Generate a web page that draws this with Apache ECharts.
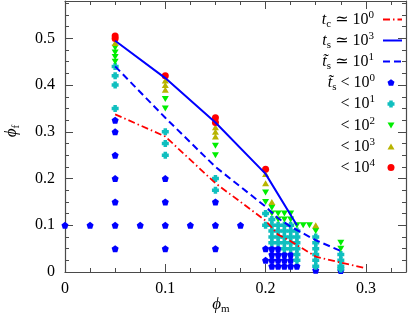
<!DOCTYPE html>
<html><head><meta charset="utf-8">
<script src="https://cdn.jsdelivr.net/npm/echarts@6/dist/echarts.min.js"></script>
<style>html,body{margin:0;padding:0;background:#fff}#c{width:416px;height:313px}</style>
</head><body><div id="c"></div>
<script>
// ---- data ----
const xTickLabels = ['0', '0.1', '0.2', '0.3'];
const yTickLabels = ['0', '0.1', '0.2', '0.3', '0.4', '0.5'];
const seriesNames = ['tc', 'ts', 'tts', 'lt0', 'lt1', 'lt2', 'lt3', 'lt4'];
const legendLabels = [
  '{t|t}{sub|c}{r| ≃ 10}{sup|0}',
  '{t|t}{sub|s}{r| ≃ 10}{sup|3}',
  '{t|t\u0303}{sub|s}{r| ≃ 10}{sup|1}',
  '{t|t\u0303}{sub|s}{r| < 10}{sup|0}',
  '{r|< 10}{sup|1}',
  '{r|< 10}{sup|2}',
  '{r|< 10}{sup|3}',
  '{r|< 10}{sup|4}'
];
// threshold lines
const lineTc = [[0.05,0.3375],[0.1,0.29],[0.15,0.19],[0.2,0.11],[0.2125,0.08],[0.225,0.066],[0.25,0.033],[0.275,0.02],[0.3,0.008]];
const lineTs = [[0.05,0.495],[0.1,0.415],[0.15,0.32],[0.2,0.21],[0.23125,0.1]];
const lineTts = [[0.05,0.44],[0.1,0.33],[0.15,0.225],[0.2,0.14],[0.2125,0.115],[0.225,0.097],[0.25,0.068],[0.275,0.045]];
// simulation points by class
const ptsLt0 = [[0,0.1],[0.025,0.1],[0.05,0.05],[0.05,0.1],[0.05,0.15],[0.05,0.2],[0.05,0.25],[0.05,0.3],[0.05,0.325],
  [0.075,0.1],[0.1,0.05],[0.1,0.1],[0.1,0.15],[0.1,0.2],[0.125,0.1],[0.15,0.05],[0.15,0.1],[0.15,0.15],[0.175,0.1],
  [0.2,0.025],[0.2,0.05],[0.20625,0.05],[0.2125,0.05],
  [0.20625,0.0375],[0.2125,0.0375],[0.21875,0.0375],[0.225,0.0375],
  [0.20625,0.025],[0.2125,0.025],[0.21875,0.025],[0.225,0.025],
  [0.20625,0.0125],[0.2125,0.0125],[0.21875,0.0125],[0.225,0.0125],[0.23125,0.0125],
  [0.25,0.004],[0.275,0.003]];
const ptsLt1 = [[0.05,0.35],[0.05,0.4],[0.05,0.42],[0.05,0.44],[0.1,0.25],[0.1,0.275],[0.1,0.3],[0.15,0.175],[0.15,0.2],
  [0.2,0.1],[0.2,0.125],[0.20625,0.1125],
  [0.20625,0.1],[0.2125,0.1],[0.21875,0.1],[0.225,0.1],
  [0.20625,0.0875],[0.2125,0.0875],[0.21875,0.0875],[0.225,0.0875],[0.23125,0.0875],
  [0.20625,0.075],[0.2125,0.075],[0.21875,0.075],[0.225,0.075],[0.23125,0.075],
  [0.20625,0.0625],[0.2125,0.0625],[0.21875,0.0625],[0.225,0.0625],[0.23125,0.0625],
  [0.21875,0.05],[0.225,0.05],[0.23125,0.05],[0.23125,0.0375],[0.23125,0.025],
  [0.25,0.075],[0.25,0.0625],[0.25,0.05],[0.25,0.0375],[0.25,0.025],[0.25,0.0125],
  [0.275,0.0375],[0.275,0.025],[0.275,0.0125],[0.275,0.00625]];
const ptsLt2 = [[0.05,0.45],[0.05,0.46],[0.05,0.47],[0.05,0.48],[0.1,0.35],[0.1,0.37],[0.15,0.25],[0.15,0.27],
  [0.2,0.15],[0.2,0.17],[0.20625,0.1375],[0.20625,0.125],[0.2125,0.125],[0.21875,0.125],[0.225,0.125],
  [0.2125,0.1125],[0.21875,0.1125],[0.225,0.1125],[0.23125,0.1],[0.2375,0.1],[0.24375,0.1],
  [0.25,0.0875],[0.275,0.0625],[0.275,0.05]];
const ptsLt3 = [[0.05,0.49],[0.1,0.39],[0.1,0.4],[0.1,0.41],[0.15,0.29],[0.15,0.3],[0.15,0.31],[0.2,0.19],[0.2,0.21],[0.20625,0.15],[0.25,0.1]];
const ptsLt4 = [[0.05,0.5],[0.05,0.505],[0.1,0.42],[0.15,0.32],[0.15,0.33],[0.2,0.22]];

// ---- styling ----
const SERIF = "'Liberation Serif', 'DejaVu Serif', serif";
const AX = '#4a4a4a';
const PENT = 'path://M0,-1L0.951,-0.309L0.588,0.809L-0.588,0.809L-0.951,-0.309Z';
const PLUS = 'path://M-0.5,-1L0.5,-1L0.5,-0.5L1,-0.5L1,0.5L0.5,0.5L0.5,1L-0.5,1L-0.5,0.5L-1,0.5L-1,-0.5L-0.5,-0.5Z';
const TDOWN = 'path://M-1,-0.8L1,-0.8L0,0.9Z';
const TUP = 'path://M-1,0.8L1,0.8L0,-0.9Z';

function fmt(labels) {
  return function (v) {
    const i = Math.round(v * 10);
    return (Math.abs(v * 10 - i) < 1e-6 && i < labels.length) ? labels[i] : '';
  };
}
const XMAX = 0.34, YMAX = 0.58;
function axisBase(extra) {
  return Object.assign({ type: 'value', min: 0, splitLine: { show: false } }, extra);
}
const majorX = (pos, label) => axisBase({
  gridIndex: 0, position: pos, max: XMAX, interval: 0.1,
  axisLine: { show: true, onZero: false, lineStyle: { color: AX, width: 1.2 } },
  axisTick: { show: true, inside: true, length: 8, lineStyle: { color: AX, width: 1 } },
  axisLabel: { show: label, formatter: fmt(xTickLabels), margin: 9, fontFamily: SERIF, fontSize: 16, color: '#000' }
});
const majorY = (pos, label) => axisBase({
  gridIndex: 0, position: pos, max: YMAX, interval: 0.1,
  axisLine: { show: true, onZero: false, lineStyle: { color: AX, width: 1.2 } },
  axisTick: { show: true, inside: true, length: 8, lineStyle: { color: AX, width: 1 } },
  axisLabel: { show: label, formatter: fmt(yTickLabels), margin: 10, fontFamily: SERIF, fontSize: 16, color: '#000' }
});
const minorAx = (pos, max) => axisBase({
  gridIndex: 1, position: pos, max: max, interval: 0.025,
  axisLine: { show: false, onZero: false },
  axisTick: { inside: true, length: 4, lineStyle: { color: AX } }, axisLabel: { show: false }
});

const gridRect = { left: 65, right: 10, top: 1, bottom: 41 };
function scatter(name, data, symbol, color, size) {
  return { name, type: 'scatter', data, symbol, symbolSize: size, xAxisIndex: 0, yAxisIndex: 0,
    itemStyle: { color, opacity: 1 }, emphasis: { disabled: true }, silent: true };
}
function line(name, data, color, type, width) {
  return { name, type: 'line', data, showSymbol: false, symbol: 'none', xAxisIndex: 0, yAxisIndex: 0,
    lineStyle: { color, width, type }, itemStyle: { color },
    emphasis: { disabled: true }, silent: true };
}

// one legend component per row so rows sit exactly where the reference has them
const legendRowCenters = [19.5, 40.5, 61.5, 82.5, 104, 125.5, 146.5, 167.5];
function richText(gap) {
  return {
    t: { fontFamily: SERIF, fontStyle: 'italic', fontSize: 16, lineHeight: 20, color: '#000' },
    r: { fontFamily: SERIF, fontSize: 16, lineHeight: 20, color: '#000' },
    sub: { fontFamily: SERIF, fontSize: 11, lineHeight: 13, verticalAlign: 'bottom', color: '#000' },
    sup: { fontFamily: SERIF, fontSize: 11, lineHeight: 10, verticalAlign: 'top', color: '#000' },
    g: { width: gap, lineHeight: 20 }
  };
}
const legends = seriesNames.map(function (n, i) {
  const isLine = i < 3;
  const gap = isLine ? 4 : 7.5;
  return {
    orient: 'vertical', right: isLine ? 13 : 21.5, top: legendRowCenters[i] - 10, align: 'right',
    itemWidth: isLine ? 19 : 7, itemHeight: 7, padding: 0, selectedMode: false, symbolKeepAspect: true,
    data: [isLine ? { name: n, itemStyle: { opacity: 0, borderWidth: 0 } } : n],
    formatter: function () { return legendLabels[i] + '{g|}'; },
    textStyle: { color: '#000', rich: richText(gap) }
  };
});

const option = {
  animation: false,
  grid: [Object.assign({}, gridRect), Object.assign({}, gridRect)],
  xAxis: [majorX('bottom', true), majorX('top', false), minorAx('bottom', XMAX), minorAx('top', XMAX)],
  yAxis: [majorY('left', true), majorY('right', false), minorAx('left', YMAX), minorAx('right', YMAX)],
  legend: legends,
  graphic: [
    { type: 'text', x: 221, y: 305, silent: true,
      style: { text: '{p|ϕ}{s|m}', align: 'center', verticalAlign: 'middle',
        rich: { p: { fontFamily: SERIF, fontStyle: 'italic', fontSize: 17, lineHeight: 20, fill: '#000' },
                s: { fontFamily: SERIF, fontSize: 11, lineHeight: 12, verticalAlign: 'bottom', fill: '#000' } } } },
    { type: 'text', x: 12, y: 131, rotation: Math.PI / 2, silent: true,
      style: { text: '{p|ϕ}{s|f}', align: 'center', verticalAlign: 'middle',
        rich: { p: { fontFamily: SERIF, fontStyle: 'italic', fontSize: 17, lineHeight: 20, fill: '#000' },
                s: { fontFamily: SERIF, fontSize: 11, lineHeight: 12, verticalAlign: 'bottom', fill: '#000' } } } }
  ],
  series: [
    scatter('lt0', ptsLt0, PENT, '#0000ff', 7),
    scatter('lt1', ptsLt1, PLUS, '#10bfbf', 7),
    scatter('lt2', ptsLt2, TDOWN, '#00ee00', [7, 6]),
    scatter('lt3', ptsLt3, TUP, '#b8b400', [7, 6]),
    scatter('lt4', ptsLt4, 'circle', '#ff0000', 7),
    line('tc', lineTc, '#ff0000', [7, 3, 1.5, 3], 1.8),
    line('ts', lineTs, '#0000ff', 'solid', 2),
    line('tts', lineTts, '#0000ff', [7, 4], 2)
  ]
};
const chart = echarts.init(document.getElementById('c'), null, { renderer: 'canvas' });
chart.setOption(option);
</script>
</body></html>
